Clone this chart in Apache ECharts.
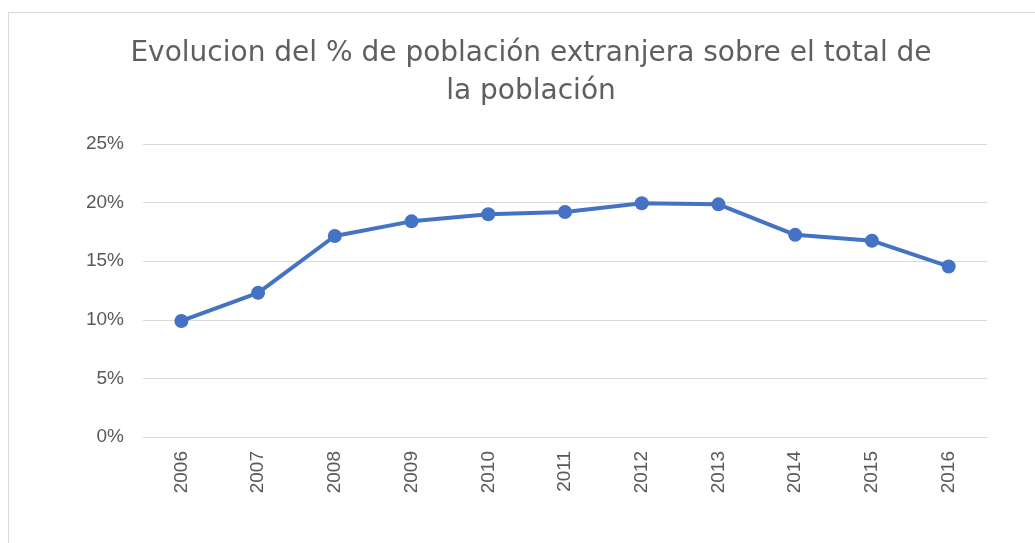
<!DOCTYPE html>
<html><head><meta charset="utf-8">
<script src="https://cdn.jsdelivr.net/npm/echarts@6/dist/echarts.min.js"></script>
<style>
html,body{margin:0;padding:0;background:#fff;}
#frame{position:absolute;left:8px;top:12px;width:1040px;height:540px;border:1px solid #d9d9d9;box-sizing:border-box;}
#c{position:absolute;left:0;top:0;width:1035px;height:543px;}
</style></head>
<body>
<div id="frame"></div>
<div id="c"></div>
<script>
const titleText = 'Evolucion del % de población extranjera sobre el total de\nla población';
const years = ['2006','2007','2008','2009','2010','2011','2012','2013','2014','2015','2016'];
const pctValues = [9.9, 12.3, 17.15, 18.4, 19.0, 19.2, 19.95, 19.85, 17.25, 16.75, 14.55];

const chart = echarts.init(document.getElementById('c'));
chart.setOption({
  animation: false,
  title: {
    text: titleText,
    left: 526,
    textAlign: 'center',
    top: 30,
    textStyle: {fontFamily: 'DejaVu Sans', fontWeight: 'normal', fontSize: 28, color: '#5f5f5f', lineHeight: 38}
  },
  grid: {left: 143, right: 48, top: 144, bottom: 106, containLabel: false},
  xAxis: {
    type: 'category',
    data: years,
    boundaryGap: true,
    axisLine: {lineStyle: {color: '#d9d9d9', width: 1}},
    axisTick: {show: false},
    axisLabel: {rotate: 90, color: '#595959', fontSize: 19, fontFamily: 'Liberation Sans', margin: 14}
  },
  yAxis: {
    type: 'value',
    min: 0, max: 25, interval: 5,
    axisLine: {show: false},
    axisTick: {show: false},
    splitLine: {lineStyle: {color: '#d9d9d9', width: 1}},
    axisLabel: {formatter: '{value}%', color: '#595959', fontSize: 19, fontFamily: 'Liberation Sans', margin: 19}
  },
  series: [{
    type: 'line',
    data: pctValues,
    symbol: 'circle',
    symbolSize: 14,
    lineStyle: {color: '#4472C4', width: 4},
    itemStyle: {color: '#4472C4'}
  }]
});
</script>
</body></html>
